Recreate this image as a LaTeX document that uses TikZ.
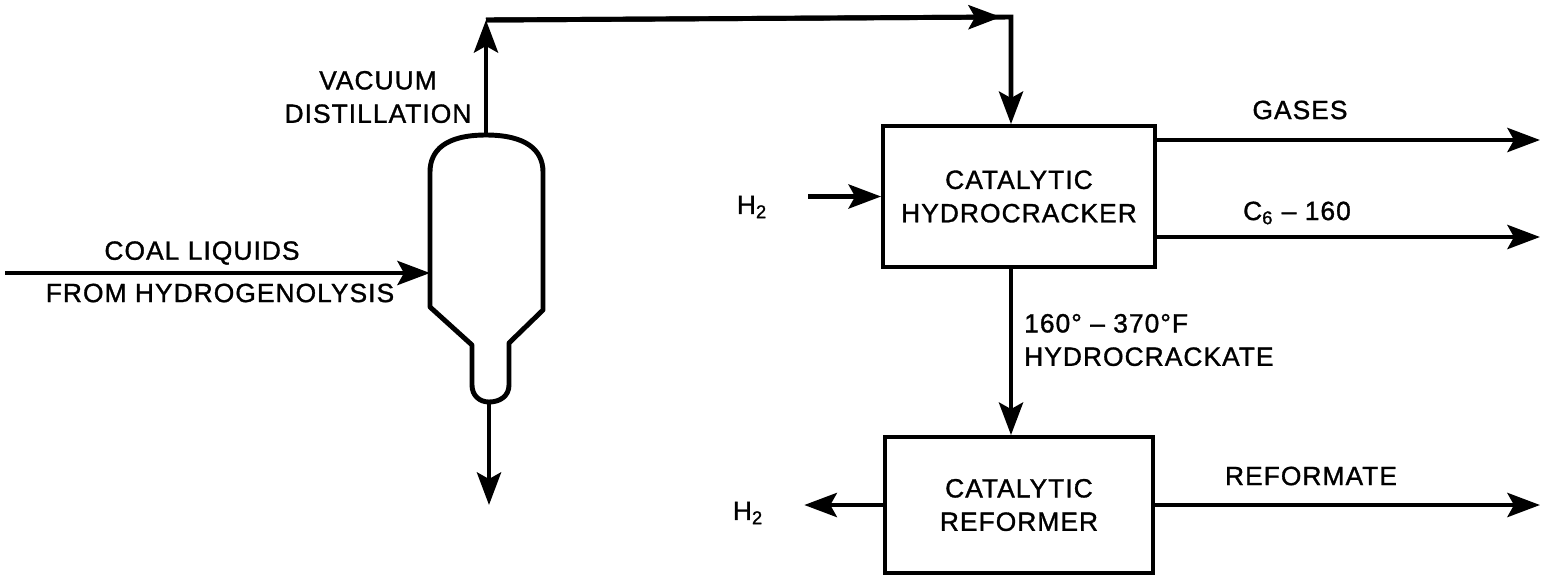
\documentclass[tikz,border=0pt]{standalone}
\usepackage{fontspec}
\setmainfont{Liberation Sans}[LetterSpace=4,FakeBold=1.2]
\usetikzlibrary{arrows.meta,positioning}

\begin{document}
\begin{tikzpicture}[x=0.02cm,y=-0.02cm,font=\fontsize{15}{19}\selectfont,
  unit/.style={draw,line width=2.2pt,align=center,minimum width=5.44cm,minimum height=2.82cm},
  flow/.style={-{Stealth[length=6.5mm,width=4.8mm,inset=1.3mm]},line width=2.8pt},
  pipe/.style={line width=2.8pt,line join=round}]
\useasboundingbox (0,0) rectangle (1542,576);
% vacuum column
\draw[pipe] (486,135) .. controls (446,135) and (430,150) .. (430,172) -- (430,307) -- (472,345) -- (472,385)
  .. controls (472,396) and (480,402) .. (489,402) .. controls (500,402) and (509,396) .. (509,385)
  -- (509,343) -- (543,310) -- (543,172) .. controls (543,150) and (526,135) .. (486,135) -- cycle;
\coordinate (vtop) at (486,135);
\coordinate (vbot) at (489,402);
\coordinate (vfeed) at (430,273);
\coordinate (feed) at (5,273);
\coordinate (residue) at (489,505);
\coordinate (topl) at (486,20);
\coordinate (topr) at (1011,17);
\coordinate (gasout) at (1540,140);
\coordinate (lightout) at (1540,237);
\coordinate (refout) at (1540,505);
% units
\node[unit] (cracker) at (1019,196.5) {CATALYTIC\\HYDROCRACKER};
\node[unit,minimum width=5.36cm,minimum height=2.72cm] (reformer) at (1019,505) {CATALYTIC\\REFORMER};
% labels
\node (coal) at (202,253) {COAL LIQUIDS};
\node (hydrog) at (220,293) {FROM HYDROGENOLYSIS};
\node[align=center] (vac) at (378,97) {VACUUM\\DISTILLATION};
\node (h2in) at (752,207) {H\textsubscript{2}};
\node (h2out) at (748,513) {H\textsubscript{2}};
\node (gases) at (1300,110) {GASES};
\node (light) at (1297,213) {C\textsubscript{6} -- 160};
\node[align=left,anchor=west] (heavy) at (1018,340) {160° -- 370°F\\HYDROCRACKATE};
\node (reformate) at (1311,476) {REFORMATE};
% streams
\draw[flow] (feed) -- (vfeed);
\draw[flow] (vtop) -- (topl);
\draw[flow] (topl) -- ([xshift=-2mm]topr);
\draw[flow] (topl) -- (topr) -- (topr |- cracker.north);
\draw[flow] (vbot) -- (residue);
\draw[flow,shorten <=7mm] (h2in.east |- cracker.west) -- (cracker.west);
\draw[flow] (cracker.south -| topr) -- (reformer.north -| topr);
\draw[flow,shorten >=7mm] (reformer.west) -- (h2out.east |- reformer.west);
\foreach \s/\t in {cracker/gasout,cracker/lightout,reformer/refout}\draw[flow] (\s.east |- \t)--(\t);
\end{tikzpicture}
\end{document}
